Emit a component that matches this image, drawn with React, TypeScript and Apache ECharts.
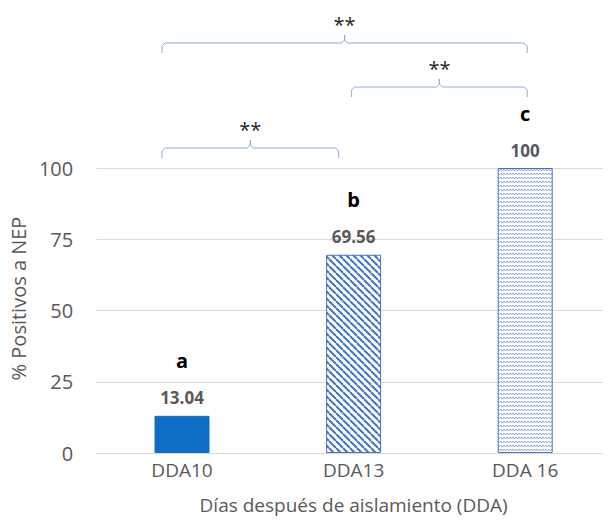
import React, { useEffect, useRef } from "react";
import * as echarts from "echarts";

const categories = ["DDA10", "DDA13", "DDA 16"];
const values = [13.04, 69.56, 100];
const letters = ["a", "b", "c"];
const valueLabels = ["13.04", "69.56", "100"];
const yTicks = [0, 25, 50, 75, 100];
// brace comparisons: [fromIndex, toIndex, text]
const braces: [number, number, string][] = [
  [0, 2, "**"],
  [1, 2, "**"],
  [0, 1, "**"],
];

const FONT = "'Open Sans', 'Noto Sans', sans-serif";

function hatchCanvas() {
  const s = 7;
  const c = document.createElement("canvas");
  c.width = s;
  c.height = s;
  const ctx = c.getContext("2d")!;
  ctx.fillStyle = "#ffffff";
  ctx.fillRect(0, 0, s, s);
  ctx.strokeStyle = "#4472C4";
  ctx.lineWidth = 2;
  for (let i = -1; i <= 1; i++) {
    ctx.beginPath();
    ctx.moveTo(i * s, 0);
    ctx.lineTo(i * s + s, s);
    ctx.stroke();
  }
  return c;
}

function waveCanvas() {
  const w = 6;
  const h = 4;
  const c = document.createElement("canvas");
  c.width = w;
  c.height = h;
  const ctx = c.getContext("2d")!;
  ctx.fillStyle = "#ffffff";
  ctx.fillRect(0, 0, w, h);
  ctx.strokeStyle = "#8FAADC";
  ctx.lineWidth = 1;
  ctx.beginPath();
  ctx.moveTo(0, 1);
  ctx.lineTo(1.5, 3);
  ctx.lineTo(3, 1);
  ctx.lineTo(4.5, 3);
  ctx.lineTo(6, 1);
  ctx.stroke();
  return c;
}

export default function App() {
  const ref = useRef<HTMLDivElement>(null);
  useEffect(() => {
    if (!ref.current) return;
    const chart = echarts.init(ref.current, null, { renderer: "svg" });
    const hatch = hatchCanvas();
    const wave = waveCanvas();
    const fills: any[] = [
      { color: "#0F6FC6", borderColor: "#0F6FC6", borderWidth: 1 },
      {
        color: { image: hatch, repeat: "repeat", imageWidth: hatch.width, imageHeight: hatch.height },
        borderColor: "#4472C4",
        borderWidth: 1,
      },
      {
        color: { image: wave, repeat: "repeat", imageWidth: wave.width, imageHeight: wave.height },
        borderColor: "#4472C4",
        borderWidth: 1,
      },
    ];
    chart.setOption({
      animation: false,
      grid: { left: 96, right: -7, top: 168, bottom: 74 },
      xAxis: {
        type: "category",
        data: categories,
        axisLine: { lineStyle: { color: "#D9D9D9", width: 1 } },
        axisTick: { show: false },
        axisLabel: { color: "#595959", fontSize: 19, fontFamily: FONT, margin: 7 },
        name: "Días después de aislamiento (DDA)",
        nameLocation: "middle",
        nameGap: 42,
        nameTextStyle: { color: "#595959", fontSize: 19, fontFamily: FONT },
      },
      yAxis: {
        type: "value",
        min: 0,
        max: 100,
        interval: 25,
        axisLine: { show: false },
        axisTick: { show: false },
        splitLine: { lineStyle: { color: "#D9D9D9", width: 1 } },
        axisLabel: {
          color: "#595959",
          fontSize: 20,
          fontFamily: FONT,
          margin: 23,
          formatter: (v: number) => (yTicks.includes(v) ? String(v) : ""),
        },
        name: "% Positivos a NEP",
        nameLocation: "middle",
        nameGap: 64,
        nameTextStyle: { color: "#595959", fontSize: 20, fontFamily: FONT, padding: [0, 0, 0, 24] },
      },
      series: [
        {
          type: "bar",
          barWidth: 55,
          data: values.map((v, i) => ({
            value: v,
            itemStyle: fills[i],
            label: {
              formatter: `{l|${letters[i]}}\n{v|${valueLabels[i]}}`,
            },
          })),
          label: {
            show: true,
            position: "top",
            distance: 8,
            rich: {
              l: { fontSize: 20, fontWeight: "bold", color: "#000000", fontFamily: FONT, lineHeight: 54 },
              v: { fontSize: 17, fontWeight: "bold", color: "#595959", fontFamily: FONT, lineHeight: 20 },
            },
          },
        },
      ],
    });

    // braces positioned from the category axis
    const cx = (i: number) => chart.convertToPixel({ xAxisIndex: 0 }, categories[i]) as number;
    const braceY = [43, 87, 148];
    const offsets: [number, number][] = [
      [-20, 2],
      [-2, 2],
      [-20, -15],
    ];
    const col = "#8FAADC";
    const graphics: any[] = [];
    braces.forEach(([a, b, txt], k) => {
      const x1 = cx(a) + offsets[k][0];
      const x2 = cx(b) + offsets[k][1];
      const y = braceY[k];
      const xm = (x1 + x2) / 2;
      graphics.push({
        type: "polyline",
        shape: {
          points: [
            [x1, y + 10],
            [x1, y + 3],
            [x1 + 3, y],
            [xm - 3, y],
            [xm, y - 3],
            [xm, y - 8],
            [xm, y - 3],
            [xm + 3, y],
            [x2 - 3, y],
            [x2, y + 3],
            [x2, y + 10],
          ],
        },
        style: { stroke: col, lineWidth: 1, fill: null },
        silent: true,
      });
      graphics.push({
        type: "text",
        x: xm,
        y: y - 19,
        style: {
          text: txt,
          fill: "#262626",
          font: `20px ${FONT}`,
          align: "center",
          verticalAlign: "middle",
        },
        silent: true,
      });
    });
    chart.setOption({ graphic: graphics });

    return () => chart.dispose();
  }, []);
  return <div ref={ref} style={{ width: 611, height: 527, margin: -8 }} />;
}
